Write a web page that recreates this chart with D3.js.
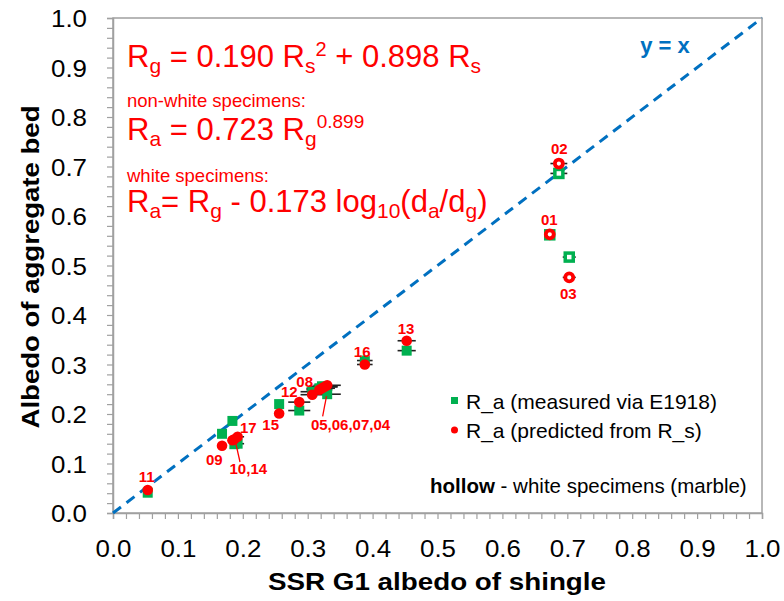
<!DOCTYPE html>
<html><head><meta charset="utf-8">
<script src="https://cdn.jsdelivr.net/npm/d3@7"></script>
<style>
body{margin:0;background:#fff;}
svg{display:block;font-family:"Liberation Sans",Arial,sans-serif;}
</style></head>
<body><svg id="chart" width="784" height="601"></svg>
<script>
// ---- data ----
const ids       = ["11","09","10","14","17","15","12","08","05","06","07","04","16","13","01","02","03"];
const ssrAlbedo = [0.0535,0.168,0.184,0.187,0.192,0.256,0.287,0.307,0.318,0.322,0.326,0.330,0.388,0.4525,0.673,0.687,0.703];
const measured  = [0.041,0.160,0.186,0.139,0.140,0.220,0.207,0.245,0.252,0.256,0.255,0.240,0.308,0.328,0.562,0.686,0.517];
const predicted = [0.0465,0.136,0.147,0.149,0.154,0.201,0.224,0.239,0.249,0.252,0.255,0.258,0.300,0.348,0.563,0.706,0.476];
const xError    = [0,0,0,0,0.010,0,0.017,0.018,0.020,0.020,0.020,0.021,0.012,0.014,0,0.013,0.010];
const isWhite   = [false,false,false,false,false,false,false,false,false,false,false,false,false,false,true,true,true];
const tickValues = [0,0.1,0.2,0.3,0.4,0.5,0.6,0.7,0.8,0.9,1.0];
const minorTickValues = d3.range(0,51).map(i=>i/50);
// point labels anchored in data units
const labelText = ["11","09","10,14","17","15","12","08","05,06,07,04","16","13","02","01","03"];
const labelX    = [0.052,0.156,0.2085,0.2085,0.243,0.2717,0.2954,0.366,0.384,0.4515,0.6877,0.6723,0.7015];
const labelY    = [0.073,0.107,0.090,0.173,0.178,0.2444,0.2653,0.178,0.327,0.373,0.737,0.593,0.444];
// leader lines [x1,y1,x2,y2] in data units
const leaders = [[0.1895,0.139,0.1957,0.103],[0.329,0.236,0.323,0.195]];

// ---- layout ----
const svg = d3.select("#chart");
const X0=113, X1=762, Y0=513, Y1=18;
const x = d3.scaleLinear().domain([0,1]).range([X0,X1]);
const y = d3.scaleLinear().domain([0,1]).range([Y0,Y1]);
const GREEN="#00B050", RED="#FF0000", BLUE="#0070C0", GRAY="#A0A0A0";

// plot border
svg.append("rect").attr("x",X0).attr("y",Y1).attr("width",X1-X0).attr("height",Y0-Y1)
  .attr("fill","none").attr("stroke",GRAY).attr("stroke-width",1.5);

// axes: minor ticks
const gxMinor = svg.append("g").attr("transform",`translate(0,${Y0})`)
  .call(d3.axisBottom(x).tickValues(minorTickValues).tickSize(6).tickFormat(""));
const gyMinor = svg.append("g").attr("transform",`translate(${X0},0)`)
  .call(d3.axisLeft(y).tickValues(minorTickValues).tickSize(6).tickFormat(""));
[gxMinor,gyMinor].forEach(g=>{g.selectAll("path").attr("stroke",GRAY).attr("stroke-width",1.5);
  g.selectAll("line").attr("stroke",GRAY).attr("stroke-width",1.2);});

// axes: labels
const gx = svg.append("g").attr("transform",`translate(0,${Y0})`)
  .call(d3.axisBottom(x).tickValues(tickValues).tickSize(0).tickPadding(0).tickFormat(d3.format(".1f")));
gx.select("path").remove();
gx.selectAll("text").attr("y",44).attr("dy",null)
  .attr("font-size",23).attr("fill","#000").attr("font-family","Liberation Sans, Arial, sans-serif")
  .attr("textLength",36).attr("lengthAdjust","spacingAndGlyphs");
const gy = svg.append("g").attr("transform",`translate(${X0},0)`)
  .call(d3.axisLeft(y).tickValues(tickValues).tickSize(0).tickPadding(0).tickFormat(d3.format(".1f")));
gy.select("path").remove();
gy.selectAll("text").attr("x",-26).attr("dy","0.37em")
  .attr("font-size",23).attr("fill","#000").attr("font-family","Liberation Sans, Arial, sans-serif")
  .attr("textLength",36).attr("lengthAdjust","spacingAndGlyphs");

// axis titles
svg.append("text").attr("x",(X0+X1)/2-0.5).attr("y",590).attr("text-anchor","middle")
  .attr("font-size",23).attr("font-weight","bold").attr("textLength",338).attr("lengthAdjust","spacingAndGlyphs")
  .text("SSR G1 albedo of shingle");
svg.append("text").attr("transform",`translate(39,267) rotate(-90)`).attr("text-anchor","middle")
  .attr("font-size",23).attr("font-weight","bold").attr("textLength",323).attr("lengthAdjust","spacingAndGlyphs")
  .text("Albedo of aggregate bed");

// y = x line
svg.append("line").attr("x1",x(0)).attr("y1",y(0)).attr("x2",x(1)).attr("y2",y(1))
  .attr("stroke",BLUE).attr("stroke-width",3).attr("stroke-dasharray","10,7");
svg.append("text").attr("x",665).attr("y",53).attr("text-anchor","middle").attr("fill",BLUE)
  .attr("font-size",22).attr("font-weight","bold").text("y = x");

// equations
const eq = svg.append("g").attr("fill",RED);
function eqLine(yb,size,parts){
  const t = eq.append("text").attr("x",127).attr("y",yb).attr("font-size",size);
  parts.forEach(p=>{
    const ts = t.append("tspan").text(p.t);
    if(p.s){ts.attr("font-size",p.s);}
    if(p.dy){ts.attr("dy",p.dy);}
  });
}
eqLine(67,31,[{t:"R"},{t:"g",s:21,dy:6},{t:" = 0.190 R",dy:-6},{t:"s",s:21,dy:6},{t:"2",s:20,dy:-17},
  {t:" + 0.898 R",dy:11},{t:"s",s:21,dy:6}]);
eqLine(107,18.5,[{t:"non-white specimens:"}]);
eqLine(140,31,[{t:"R"},{t:"a",s:21,dy:6},{t:" = 0.723 R",dy:-6},{t:"g",s:21,dy:6},{t:"0.899",s:19,dy:-18}]);
eqLine(181.5,18.5,[{t:"white specimens:"}]);
eqLine(212,31,[{t:"R"},{t:"a",s:21,dy:6},{t:"= R",dy:-6},{t:"g",s:21,dy:6},{t:" - 0.173 log",dy:-6},
  {t:"10",s:21,dy:6},{t:"(d",dy:-6},{t:"a",s:21,dy:6},{t:"/d",dy:-6},{t:"g",s:21,dy:6},{t:")",dy:-6}]);

// points
const pts = ids.map((id,i)=>({id,xv:ssrAlbedo[i],m:measured[i],p:predicted[i],e:xError[i],w:isWhite[i]}));
const gErr = svg.append("g").attr("stroke","#222").attr("stroke-width",1.6);
pts.filter(d=>d.e>0).forEach(d=>{
  [d.m,d.p].forEach(v=>{
    gErr.append("line").attr("x1",x(d.xv-d.e)).attr("x2",x(d.xv+d.e)).attr("y1",y(v)).attr("y2",y(v));
  });
});
// measured squares
svg.append("g").selectAll("rect").data(pts).join("rect")
  .attr("x",d=>x(d.xv)-(d.w?4:5)).attr("y",d=>y(d.m)-(d.w?4:5))
  .attr("width",d=>d.w?8:10).attr("height",d=>d.w?8:10)
  .attr("fill",d=>d.w?"#fff":GREEN).attr("stroke",d=>d.w?GREEN:"none").attr("stroke-width",d=>d.w?3.5:0);
// predicted circles
svg.append("g").selectAll("circle").data(pts).join("circle")
  .attr("cx",d=>x(d.xv)).attr("cy",d=>y(d.p)).attr("r",d=>d.w?4:5.3)
  .attr("fill",d=>d.w?"#fff":RED).attr("stroke",d=>d.w?RED:"none").attr("stroke-width",d=>d.w?3.8:0);

// leader lines
svg.append("g").selectAll("line").data(leaders).join("line")
  .attr("x1",d=>x(d[0])).attr("y1",d=>y(d[1])).attr("x2",d=>x(d[2])).attr("y2",d=>y(d[3]))
  .attr("stroke",RED).attr("stroke-width",1.3);

// point labels
svg.append("g").selectAll("text").data(labelText).join("text")
  .attr("x",(d,i)=>x(labelX[i])).attr("y",(d,i)=>y(labelY[i])).attr("dy","0.36em")
  .attr("text-anchor","middle").attr("fill",RED).attr("font-size",15).attr("font-weight","bold").text(d=>d);

// legend
const lg = svg.append("g");
lg.append("rect").attr("x",451).attr("y",397).attr("width",7).attr("height",7).attr("fill",GREEN);
lg.append("circle").attr("cx",454.5).attr("cy",430).attr("r",3.5).attr("fill",RED);
lg.append("text").attr("x",466).attr("y",409).attr("font-size",21).text("R_a (measured via E1918)");
lg.append("text").attr("x",466).attr("y",438).attr("font-size",21).text("R_a (predicted from R_s)");
const ht = lg.append("text").attr("x",430).attr("y",493).attr("font-size",20.5);
ht.append("tspan").attr("font-weight","bold").text("hollow");
ht.append("tspan").text(" - white specimens (marble)");
</script></body></html>
